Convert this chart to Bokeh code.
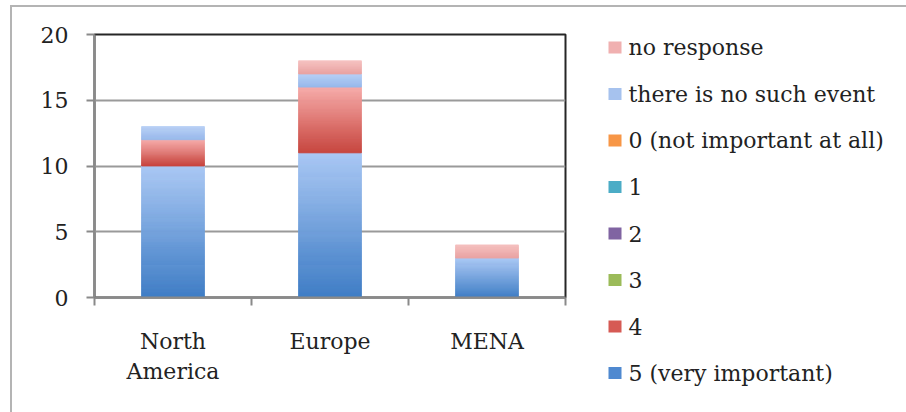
from bokeh.plotting import figure
from bokeh.layouts import row
from bokeh.models import Range1d, FixedTicker, ColumnDataSource
from bokeh.embed import file_html
from bokeh.resources import INLINE

# Regions on the horizontal axis
categories = ["North America", "Europe", "MENA"]
category_labels = ["North\nAmerica", "Europe", "MENA"]

# Number of answers per rating, one list per answer option
very_important = [10, 11, 3]      # 5 (very important)
rating_4 = [2, 5, 0]
rating_3 = [0, 0, 0]
rating_2 = [0, 0, 0]
rating_1 = [0, 0, 0]
not_important = [0, 0, 0]         # 0 (not important at all)
no_such_event = [1, 1, 0]
no_response = [0, 1, 1]

y_ticks = [0, 5, 10, 15, 20]

# Stack order from the bottom up: label, values, light top colour,
# dark bottom colour, legend swatch colour
series = [
    ("5 (very important)", very_important, "#aac8f4", "#3c7bc4", "#4f89d0"),
    ("4", rating_4, "#f6aaa8", "#c6433c", "#d65a54"),
    ("3", rating_3, "#c4dc94", "#8aac48", "#9bbb59"),
    ("2", rating_2, "#b4a0d0", "#70549a", "#8064a2"),
    ("1", rating_1, "#8ed4e6", "#3a9cb8", "#4bacc6"),
    ("0 (not important at all)", not_important, "#fbc090", "#ec8430", "#f79646"),
    ("there is no such event", no_such_event, "#b6cff5", "#96b7ea", "#a6c2ee"),
    ("no response", no_response, "#f6c0bf", "#e8a2a1", "#f0b0b0"),
]

FONT = "DejaVu Serif"
FONT_SIZE = "22px"
TEXT_COLOR = "#222222"
AXIS_GRAY = "#8a8a8a"
SLICES_PER_UNIT = 13      # roughly one shading band per screen pixel
BAR_WIDTH = 0.4


def mix(c1, c2, t):
    a = [int(c1[i:i + 2], 16) for i in (1, 3, 5)]
    b = [int(c2[i:i + 2], 16) for i in (1, 3, 5)]
    return "#" + "".join(f"{round(x + (y - x) * t):02x}" for x, y in zip(a, b))


# ---- chart -------------------------------------------------------------
p = figure(width=570, height=412, output_backend="svg", toolbar_location=None,
           x_range=Range1d(0, len(categories)), y_range=Range1d(0, 20),
           min_border_left=94, min_border_right=5,
           min_border_top=34, min_border_bottom=115)
p.frame_align = False
p.background_fill_color = "white"
p.border_fill_color = None
p.outline_line_color = "#262626"
p.outline_line_width = 2

xpos = [i + 0.5 for i in range(len(categories))]

# Stacked segments, each shaded light at its top and dark at its bottom
base = [0.0] * len(categories)
for label, values, top_col, bot_col, swatch in series:
    xs, sb, st, colors = [], [], [], []
    for k, v in enumerate(values):
        if v > 0:
            n = max(8, int(round(v * SLICES_PER_UNIT)))
            for s in range(n):
                xs.append(xpos[k])
                sb.append(base[k] + v * s / n)
                st.append(base[k] + v * (s + 1) / n)
                colors.append(mix(bot_col, top_col, (s + 0.5) / n))
        base[k] += v
    src = ColumnDataSource(dict(x=xs, bottom=sb, top=st, color=colors))
    p.vbar(x="x", bottom="bottom", top="top", width=BAR_WIDTH, source=src,
           fill_color="color", line_color="color", line_width=0.8)

# Axes
p.yaxis.ticker = FixedTicker(ticks=y_ticks)
p.yaxis.axis_line_color = AXIS_GRAY
p.yaxis.axis_line_width = 2
p.yaxis.major_tick_line_color = AXIS_GRAY
p.yaxis.major_tick_line_width = 2
p.yaxis.major_tick_out = 8
p.yaxis.major_tick_in = 0
p.yaxis.minor_tick_out = 0
p.yaxis.major_label_standoff = 18
p.yaxis.major_label_text_font = FONT
p.yaxis.major_label_text_font_size = FONT_SIZE
p.yaxis.major_label_text_color = TEXT_COLOR

p.xaxis.ticker = FixedTicker(ticks=xpos, minor_ticks=list(range(len(categories) + 1)))
p.xaxis.major_label_overrides = {x: lab for x, lab in zip(xpos, category_labels)}
p.xaxis.axis_line_color = AXIS_GRAY
p.xaxis.axis_line_width = 2
p.xaxis.major_tick_out = 0
p.xaxis.major_tick_in = 0
p.xaxis.minor_tick_out = 8
p.xaxis.minor_tick_in = 0
p.xaxis.minor_tick_line_color = AXIS_GRAY
p.xaxis.minor_tick_line_width = 2
p.xaxis.major_label_standoff = 23
p.xaxis.major_label_text_font = FONT
p.xaxis.major_label_text_font_size = FONT_SIZE
p.xaxis.major_label_text_color = TEXT_COLOR

p.xgrid.visible = False
p.ygrid.ticker = FixedTicker(ticks=y_ticks)
p.ygrid.grid_line_color = "#9a9a9a"
p.ygrid.grid_line_width = 2

# ---- legend panel (pixel coordinates, y growing downwards) ---------------
LEG_W = 336
leg = figure(width=LEG_W, height=412, output_backend="svg", toolbar_location=None,
             x_range=Range1d(0, LEG_W), y_range=Range1d(412, 0),
             x_axis_location=None, y_axis_location=None,
             min_border=0, min_border_left=0, min_border_right=0,
             min_border_top=0, min_border_bottom=0)
leg.frame_align = False
leg.grid.visible = False
leg.outline_line_color = None
leg.background_fill_color = None
leg.border_fill_color = None

ROW0, ROW_STEP = 47, 46.5
entries = series[::-1]   # listed from the top of the stack down
rows = [ROW0 + i * ROW_STEP for i in range(len(entries))]
leg_src = ColumnDataSource(dict(
    y=rows,
    label=[e[0] for e in entries],
    swatch=[e[4] for e in entries],
))
leg.rect(x=44.5, y="y", width=13, height=12, source=leg_src,
         fill_color="swatch", line_color=None)
leg.text(x=58, y="y", text="label", source=leg_src,
         text_font={"value": FONT}, text_font_size={"value": FONT_SIZE},
         text_color=TEXT_COLOR, text_baseline="middle", text_align="left")

layout = row(p, leg, spacing=0)
# Light frame around the whole chart, painted behind the transparent canvases
layout.styles = {
    "background": (
        "linear-gradient(#b4b4b4, #b4b4b4) 10px 5px / 2px 100% no-repeat, "
        "linear-gradient(#b4b4b4, #b4b4b4) 10px 5px / 100% 2px no-repeat, "
        "white"
    )
}

open("out.html", "w").write(file_html(layout, INLINE))
